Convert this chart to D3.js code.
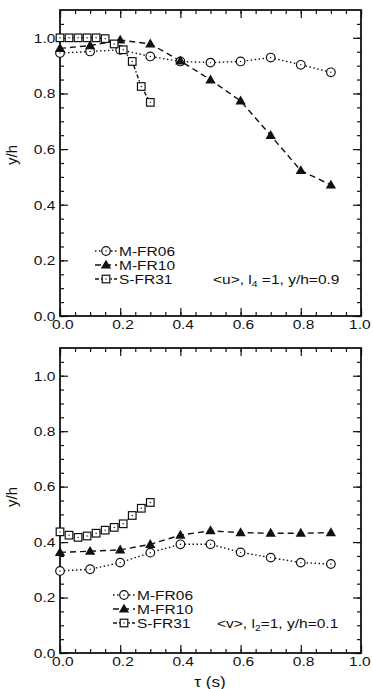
<!DOCTYPE html>
<html>
<head>
<meta charset="utf-8">
<script src="https://cdn.jsdelivr.net/npm/d3@7"></script>
<style>
  body { margin: 0; background: #fff; }
  text { font-family: "Liberation Sans", Arial, sans-serif; fill: #111; }
</style>
</head>
<body>
<svg id="chart" width="373" height="689"></svg>
<script>
'use strict';

// time lags (s)
const tau = [0, 0.1, 0.2, 0.3, 0.4, 0.5, 0.6, 0.7, 0.8, 0.9];
const tauS = [0, 0.03, 0.06, 0.09, 0.12, 0.15, 0.18, 0.21, 0.24, 0.27, 0.30];
const seriesNames = ['M-FR06', 'M-FR10', 'S-FR31'];

// <u>, l4=1, y/h=0.9
const uFR06 = [0.945, 0.951, 0.957, 0.933, 0.915, 0.911, 0.915, 0.929, 0.903, 0.876];
const uFR10 = [0.962, 0.972, 0.992, 0.978, 0.917, 0.849, 0.773, 0.649, 0.523, 0.471];
const uFR31 = [1.0, 1.0, 1.0, 1.0, 1.0, 0.997, 0.978, 0.957, 0.915, 0.825, 0.768];

// <v>, l2=1, y/h=0.1
const vFR06 = [0.296, 0.302, 0.326, 0.362, 0.392, 0.392, 0.363, 0.344, 0.326, 0.321];
const vFR10 = [0.363, 0.367, 0.372, 0.392, 0.425, 0.441, 0.434, 0.432, 0.432, 0.434];
const vFR31 = [0.437, 0.425, 0.417, 0.422, 0.432, 0.443, 0.453, 0.466, 0.496, 0.522, 0.543];

const xTicks = [0, 0.2, 0.4, 0.6, 0.8, 1.0];
const yTicks = [0, 0.2, 0.4, 0.6, 0.8, 1.0];

const svg = d3.select('#chart');
const left = 60, right = 361;
const stretch = 'scale(1.15,1)';

const dashes = ['1.5,2.5', '6,4', '4,2,1.5,2'];

function marker(g, kind, cx, cy) {
  if (kind === 0) {
    g.append('circle').attr('cx', cx).attr('cy', cy).attr('r', 4.3)
      .attr('fill', '#fff').attr('stroke', '#111').attr('stroke-width', 1.2);
    g.append('circle').attr('cx', cx).attr('cy', cy).attr('r', 0.7).attr('fill', '#111');
  } else if (kind === 1) {
    g.append('path').attr('d', d3.symbol(d3.symbolTriangle, 46)())
      .attr('transform', `translate(${cx},${cy + 0.6})`).attr('fill', '#111');
  } else {
    g.append('rect').attr('x', cx - 3.8).attr('y', cy - 3.8).attr('width', 7.6).attr('height', 7.6)
      .attr('fill', '#fff').attr('stroke', '#111').attr('stroke-width', 1.2);
    g.append('circle').attr('cx', cx).attr('cy', cy).attr('r', 0.7).attr('fill', '#111');
  }
}

function panel(cfg) {
  const x = d3.scaleLinear().domain([0, 1]).range([left, right]);
  const y = d3.scaleLinear().domain([0, 1.1]).range([cfg.bottom, cfg.top]);
  const g = svg.append('g');

  const minorX = d3.range(0, 1.0001, 0.05);
  const minorY = d3.range(0, 1.0501, 0.05);

  // minor ticks on all four sides, pointing inward
  g.append('g').attr('transform', `translate(0,${cfg.bottom})`)
    .call(d3.axisBottom(x).tickValues(minorX).tickSize(-4).tickFormat(''));
  g.append('g').attr('transform', `translate(0,${cfg.top})`)
    .call(d3.axisTop(x).tickValues(minorX).tickSize(-4).tickFormat(''));
  g.append('g').attr('transform', `translate(${left},0)`)
    .call(d3.axisLeft(y).tickValues(minorY).tickSize(-4).tickFormat(''));
  g.append('g').attr('transform', `translate(${right},0)`)
    .call(d3.axisRight(y).tickValues(minorY).tickSize(-4).tickFormat(''));

  // major ticks with labels
  g.append('g').attr('class', 'xax').attr('transform', `translate(0,${cfg.bottom})`)
    .call(d3.axisBottom(x).tickValues(xTicks).tickSize(-8).tickPadding(3).tickFormat(d3.format('.1f')));
  g.append('g').attr('transform', `translate(0,${cfg.top})`)
    .call(d3.axisTop(x).tickValues(xTicks).tickSize(-8).tickFormat(''));
  g.append('g').attr('class', 'yax').attr('transform', `translate(${left},0)`)
    .call(d3.axisLeft(y).tickValues(yTicks).tickSize(-8).tickPadding(4).tickFormat(d3.format('.1f')));
  g.append('g').attr('transform', `translate(${right},0)`)
    .call(d3.axisRight(y).tickValues(yTicks).tickSize(-8).tickFormat(''));

  g.selectAll('.domain').remove();
  g.selectAll('.tick line').attr('stroke', '#111').attr('stroke-width', 1.2);
  g.selectAll('.tick text').attr('font-size', 13.5).attr('fill', '#111')
    .attr('font-family', '"Liberation Sans", Arial, sans-serif')
    .attr('transform', stretch);
  g.selectAll('.xax .tick text').attr('x', d => d === 1 ? -1.5 : 2);

  g.append('rect').attr('x', left).attr('y', cfg.top)
    .attr('width', right - left).attr('height', cfg.bottom - cfg.top)
    .attr('fill', 'none').attr('stroke', '#111').attr('stroke-width', 1.8);

  const line = d3.line().x(d => x(d[0])).y(d => y(d[1]));
  const sets = [
    tau.map((t, i) => [t, cfg.s[0][i]]),
    tau.map((t, i) => [t, cfg.s[1][i]]),
    tauS.map((t, i) => [t, cfg.s[2][i]])
  ];
  sets.forEach((pts, k) => {
    g.append('path').datum(pts).attr('d', line)
      .attr('fill', 'none').attr('stroke', '#111').attr('stroke-width', 1.4)
      .attr('stroke-dasharray', dashes[k]);
  });
  sets.forEach((pts, k) => {
    pts.forEach(p => marker(g, k, x(p[0]), y(p[1])));
  });

  // legend
  seriesNames.forEach((name, k) => {
    const ly = cfg.legY + k * 14;
    g.append('line').attr('x1', cfg.legX - 11).attr('x2', cfg.legX + 11)
      .attr('y1', ly).attr('y2', ly).attr('stroke', '#111').attr('stroke-width', 1.4)
      .attr('stroke-dasharray', dashes[k]);
    marker(g, k, cfg.legX, ly);
    g.append('text').attr('transform', `translate(${cfg.legX + 13},${ly + 5}) ${stretch}`)
      .attr('font-size', 13.5).text(name);
  });

  const note = g.append('text')
    .attr('transform', `translate(${cfg.noteX},${cfg.legY + 33}) ${stretch}`)
    .attr('font-size', 13.5);
  note.append('tspan').text(cfg.note[0] + ', l');
  note.append('tspan').attr('font-size', 9).attr('dy', 3).text(cfg.note[1]);
  note.append('tspan').attr('dy', -3).text(cfg.note[2]);

  svg.append('text')
    .attr('transform', `translate(17,${cfg.labelY}) rotate(-90)`)
    .attr('text-anchor', 'middle').attr('font-size', 15).text('y/h');
}

panel({ top: 10, bottom: 316, s: [uFR06, uFR10, uFR31], legX: 106, legY: 251,
        noteX: 213, note: ['<u>', '4', ' =1, y/h=0.9'], labelY: 155 });
panel({ top: 348, bottom: 653, s: [vFR06, vFR10, vFR31], legX: 124, legY: 595,
        noteX: 217, note: ['<v>', '2', '=1, y/h=0.1'], labelY: 497 });

svg.append('text').attr('transform', `translate(210,687) ${stretch}`)
  .attr('text-anchor', 'middle').attr('font-size', 15).text('τ (s)');
</script>
</body>
</html>
